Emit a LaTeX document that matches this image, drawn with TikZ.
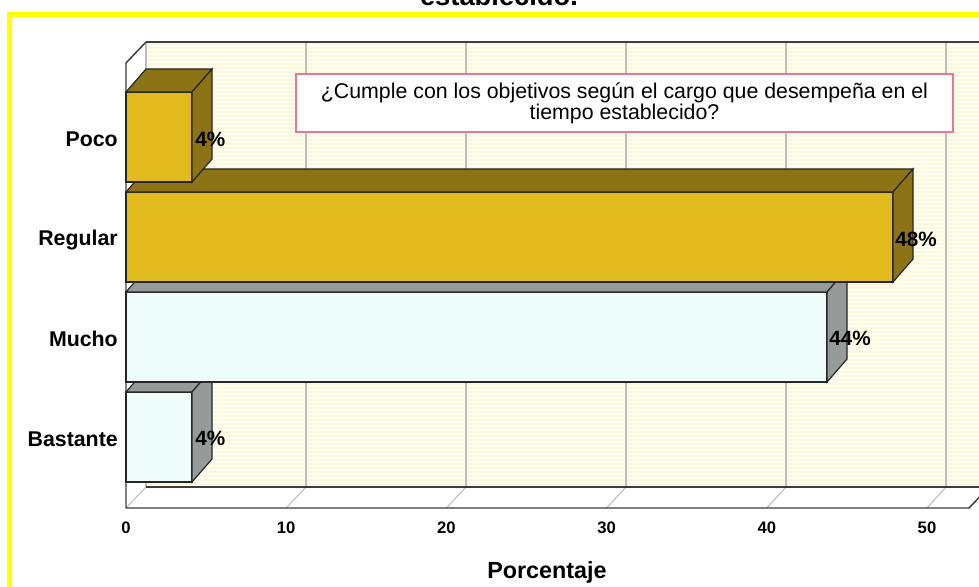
\documentclass[tikz,border=0pt]{standalone}
\usepackage{fontspec}
\setmainfont{Liberation Sans}
\definecolor{gold}{RGB}{225,186,30}
\definecolor{golddark}{RGB}{139,115,22}
\definecolor{pale}{RGB}{238,252,250}
\definecolor{palegray}{RGB}{148,155,153}
\definecolor{wall}{RGB}{255,254,242}
\definecolor{stripe}{RGB}{251,247,218}
\definecolor{gridc}{RGB}{190,190,190}
\definecolor{pinkb}{RGB}{232,122,144}
\definecolor{framey}{RGB}{255,255,0}
\definecolor{axisc}{RGB}{60,60,60}
\newcommand{\drawbar}[4]{%
  % #1 top y, #2 right x, #3 front colour, #4 side colour
  \filldraw[barline, fill=#3] (126,#1) rectangle (#2,#1+90);
  \filldraw[barline, fill=#4] (126,#1) -- (146,#1-23) -- (#2+20,#1-23) -- (#2,#1) -- cycle;
  \filldraw[barline, fill=#4] (#2,#1) -- (#2+20,#1-23) -- (#2+20,#1+67) -- (#2,#1+90) -- cycle;
}
\begin{document}
\begin{tikzpicture}[x=0.75pt,y=-0.75pt,
  barline/.style={draw=black!85, line width=0.9pt, line join=miter},
  catlab/.style={font=\fontsize{16}{18}\selectfont\bfseries, anchor=east, inner sep=0pt},
  vallab/.style={font=\fontsize{15.5}{18}\selectfont\bfseries, anchor=west, inner sep=0pt},
  ticklab/.style={font=\fontsize{12.5}{15}\selectfont\bfseries, inner sep=0pt},
  gridline/.style={draw=gridc, line width=0.8pt},
  frameline/.style={draw=axisc, line width=1.1pt}]
\useasboundingbox (0,0) rectangle (979,586);
\fill[white] (0,0) rectangle (979,586);
% partial title at top (cut off by the page edge, as in the original)
\node[font=\fontsize{20.5}{24}\selectfont\bfseries, anchor=base, inner sep=0pt] (title) at (499,5) {establecido.};
% yellow frame
\draw[framey, line width=3.8pt] (9.5,14.5) rectangle (1000,610);
% back wall
\fill[wall] (146,42) rectangle (995,487);
\foreach \yy in {44,48,...,484} \draw[stripe, line width=0.9pt] (146,\yy) -- (995,\yy);
\foreach \v in {0,1,...,5} {
  \draw[gridline] (146+160*\v,42) -- (146+160*\v,487);
  \draw[gridline] (126+160.2*\v,508) -- (146+160*\v,487);
}
% wall and floor edges
\draw[frameline] (146,42) -- (995,42);
\draw[frameline] (146,487) -- (995,487);
\draw[frameline] (126,508) -- (126,63) -- (146,42);
\draw[frameline] (126,508) -- (969,508) -- (989,487);
% bars (drawn bottom to top)
\drawbar{392}{192}{pale}{palegray}
\drawbar{292}{827}{pale}{palegray}
\drawbar{192}{893}{gold}{golddark}
\drawbar{92}{192}{gold}{golddark}
% category labels
\node[catlab] (poco) at (118,139) {Poco};
\node[catlab] (regular) at (118,240) {Regular};
\node[catlab] (mucho) at (118,339) {Mucho};
\node[catlab] (bastante) at (118,439) {Bastante};
% value labels
\node[vallab] (vpoco) at (195,139) {4\%};
\node[vallab] (vregular) at (895,239) {48\%};
\node[vallab] (vmucho) at (829,338) {44\%};
\node[vallab] (vbastante) at (195,438) {4\%};
% ticks
\foreach \v/\lab in {0/0,1/10,2/20,3/30,4/40,5/50}
  \node[ticklab] (t\v) at (126+160.2*\v,528) {\lab};
\node[font=\fontsize{17.5}{20}\selectfont\bfseries, inner sep=0pt] (xlabel) at (547,572) {Porcentaje};
% question box
\node[draw=pinkb, line width=1.4pt, fill=white, minimum width=492.75pt, minimum height=43.5pt,
  align=center, inner sep=0pt, font=\fontsize{16}{14.5}\selectfont] (qbox) at (624.5,103)
  {¿Cumple con los objetivos según el cargo que desempeña en el\\tiempo establecido?};
\end{tikzpicture}
\end{document}
